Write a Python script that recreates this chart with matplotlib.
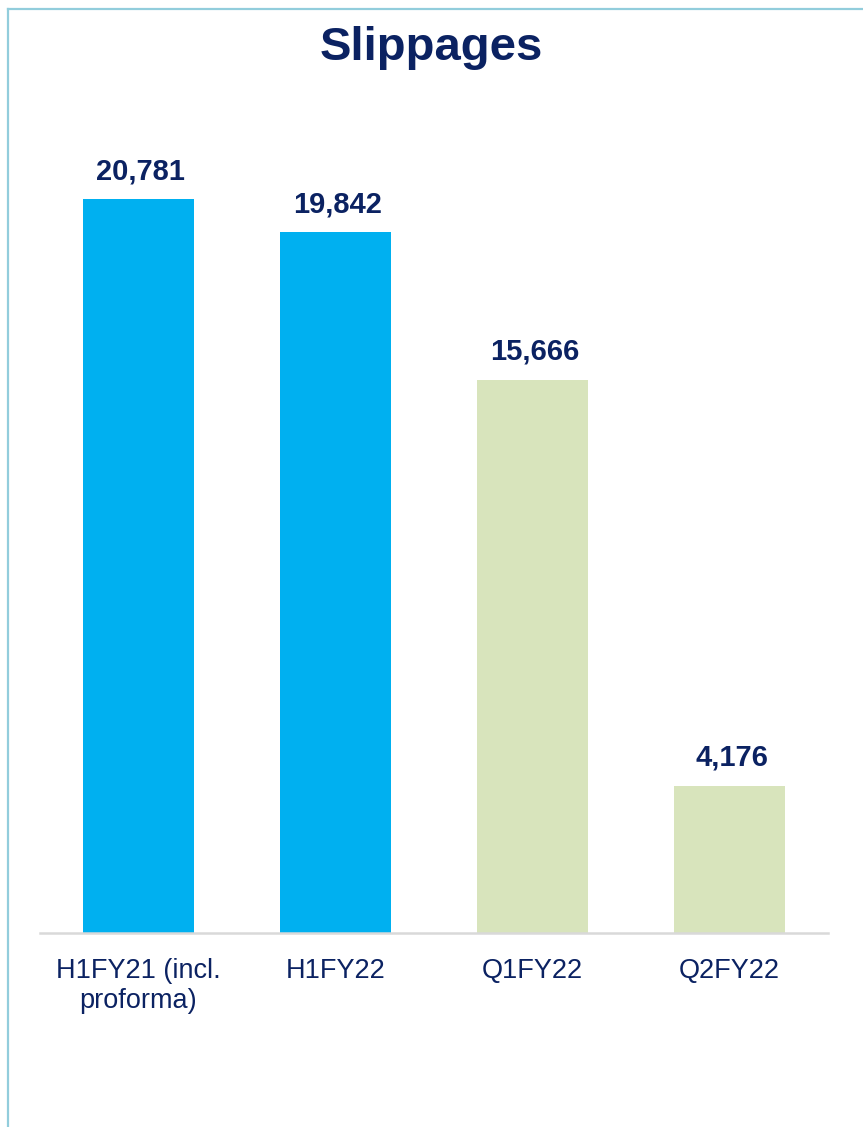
import matplotlib
matplotlib.use("Agg")
import matplotlib.pyplot as plt
from matplotlib.lines import Line2D
import numpy as np

plt.rcParams["font.family"] = ["Liberation Sans", "DejaVu Sans"]

categories = ["H1FY21 (incl.\nproforma)", "H1FY22", "Q1FY22", "Q2FY22"]
values = [20781, 19842, 15666, 4176]
colors = ["#00B0F0", "#00B0F0", "#D8E4BC", "#D8E4BC"]
NAVY = "#0B2262"

W, H = 863, 1127
fig = plt.figure(figsize=(W / 100, H / 100), dpi=100)

# axes: x 40..828 px, baseline at y=933 px, top at y=100 px
ax = fig.add_axes([40 / W, 1 - 933 / H, 788 / W, 833 / H])
x = np.arange(len(values))
ax.bar(x, values, width=0.56, color=colors, zorder=2)
ax.set_xlim(-0.5, len(values) - 0.5)
ax.set_ylim(0, 833 / 0.03532)

for xi, v in zip(x, values):
    ax.annotate(f"{v:,}", (xi, v), xytext=(1.5, 10), textcoords="offset points",
                ha="center", va="bottom", fontsize=21, fontweight="bold", color=NAVY)

for s in ["top", "right", "left"]:
    ax.spines[s].set_visible(False)
ax.spines["bottom"].set_color("#D9D9D9")
ax.spines["bottom"].set_linewidth(1.8)
ax.set_yticks([])
ax.set_xticks(x)
ax.set_xticklabels(categories, fontsize=19.5, color=NAVY, linespacing=1.2)
ax.tick_params(axis="x", length=0, pad=18)

fig.text(0.5, 1 - 48 / H, "Slippages", ha="center", va="center",
         fontsize=34, fontweight="bold", color=NAVY)

# light blue frame on the top and left
fig.add_artist(Line2D([7.5 / W, 1], [1 - 8.5 / H, 1 - 8.5 / H], color="#92CDDC", lw=1.6))
fig.add_artist(Line2D([7.5 / W, 7.5 / W], [0, 1 - 8.5 / H], color="#92CDDC", lw=1.6))

fig.savefig("out.png", dpi=100)
